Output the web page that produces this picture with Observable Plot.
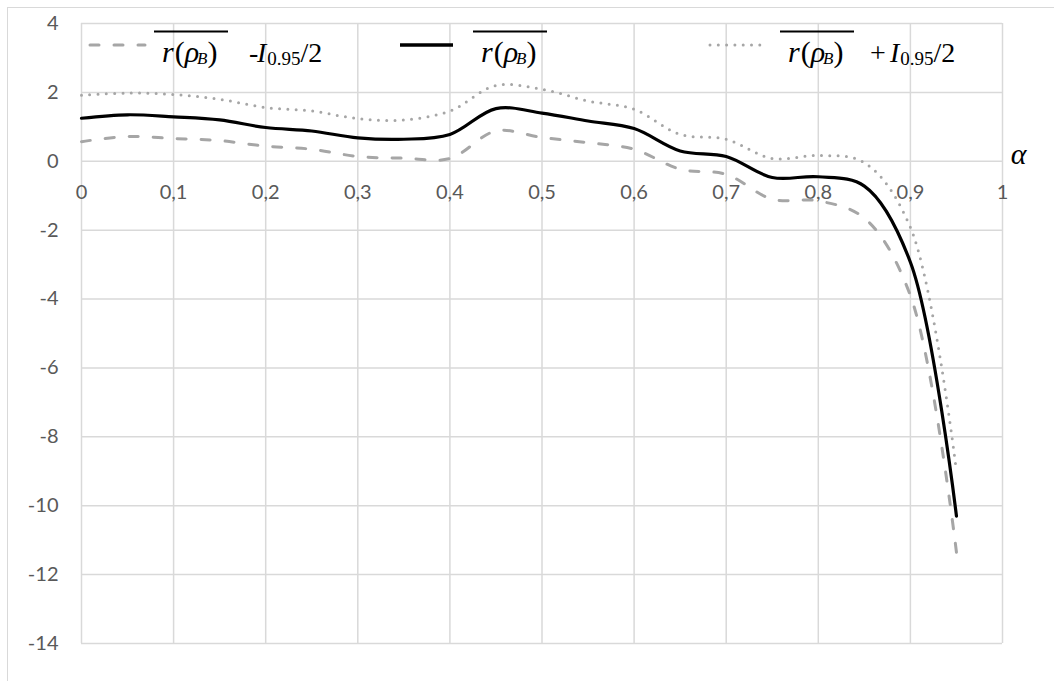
<!DOCTYPE html>
<html><head><meta charset="utf-8">
<script src="https://cdn.jsdelivr.net/npm/d3@7"></script>
<script src="https://cdn.jsdelivr.net/npm/@observablehq/plot@0.6"></script>
<style>
html,body{margin:0;padding:0;background:#fff;overflow:hidden;}
#wrap{position:relative;width:1054px;height:681px;overflow:hidden;}
#frame{position:absolute;left:7px;top:7px;width:1200px;height:800px;border-left:1.5px solid #d9d9d9;border-top:1.5px solid #d9d9d9;}
#chart{position:absolute;left:0;top:0;}
#legend{position:absolute;left:0;top:0;}
</style></head>
<body><div id="wrap"><div id="frame"></div><div id="chart"></div><svg id="legend" width="1054" height="100"></svg></div>
<script>
// data
const alpha = [0,0.05,0.1,0.15,0.2,0.25,0.3,0.35,0.4,0.45,0.5,0.55,0.6,0.65,0.7,0.75,0.8,0.85,0.9,0.95];
const meanR  = [1.25,1.35,1.29,1.2,0.98,0.88,0.68,0.64,0.78,1.53,1.4,1.17,0.95,0.3,0.14,-0.47,-0.45,-0.72,-2.93,-10.3];
const lowerR = [0.57,0.72,0.66,0.6,0.44,0.35,0.14,0.09,0.08,0.88,0.69,0.54,0.35,-0.23,-0.38,-1.1,-1.15,-1.65,-3.9,-11.35];
const upperR = [1.92,1.98,1.94,1.8,1.56,1.46,1.24,1.2,1.46,2.2,2.09,1.75,1.51,0.78,0.64,0.08,0.17,-0.04,-1.92,-9.0];
const xTicks = [0,0.1,0.2,0.3,0.4,0.5,0.6,0.7,0.8,0.9,1];
const xTickLabels = ["0","0,1","0,2","0,3","0,4","0,5","0,6","0,7","0,8","0,9","1"];
const yTicks = [4,2,0,-2,-4,-6,-8,-10,-12,-14];
const yTickLabels = ["4","2","0","-2","-4","-6","-8","-10","-12","-14"];

const rows = (vals) => alpha.map((a, i) => ({a, v: vals[i]}));
const grid = {stroke: "#d9d9d9", strokeOpacity: 1, strokeWidth: 1.5};
const curve = "catmull-rom";

const chart = Plot.plot({
  width: 1054, height: 681,
  marginLeft: 81, marginRight: 52, marginTop: 23, marginBottom: 38,
  x: {domain: [0, 1], axis: null},
  y: {domain: [-14, 4], label: null},
  style: {fontFamily: "Lato, 'Open Sans', sans-serif", fontSize: "20px", color: "#595959", background: "transparent", overflow: "visible"},
  marks: [
    Plot.gridX(xTicks, grid),
    Plot.gridY(yTicks, grid),
    Plot.axisY(yTicks, {label: null, tickSize: 0, tickPadding: 23, tickFormat: d => yTickLabels[yTicks.indexOf(d)], fill: "#595959", fontSize: 20}),
    Plot.text(xTicks, {x: d => d, y: () => 0, dy: 31, text: d => xTickLabels[xTicks.indexOf(d)], fill: "#595959", fontSize: 20}),
    Plot.text([1], {x: d => d, y: () => 0, dx: 16, dy: -7, text: () => "α", fontStyle: "italic", fontFamily: "'Liberation Serif', 'DejaVu Serif', serif", fontSize: 30, fill: "#000"}),
    Plot.line(rows(lowerR), {x: "a", y: "v", curve, stroke: "#a6a6a6", strokeWidth: 3, strokeDasharray: "9,15", strokeLinecap: "round"}),
    Plot.line(rows(upperR), {x: "a", y: "v", curve, stroke: "#a6a6a6", strokeWidth: 3, strokeDasharray: "0,8.3", strokeLinecap: "round"}),
    Plot.line(rows(meanR), {x: "a", y: "v", curve, stroke: "#000", strokeWidth: 3.2})
  ]
});
document.getElementById("chart").appendChild(chart);

// legend
const L = d3.select("#legend");
const serif = "'Liberation Serif', 'DejaVu Serif', serif";
function sample(x1, x2, stroke, dash, w) {
  const l = L.append("line").attr("x1", x1).attr("x2", x2).attr("y1", 45).attr("y2", 45)
    .attr("stroke", stroke).attr("stroke-width", w).attr("stroke-linecap", dash ? "round" : "butt");
  if (dash) l.attr("stroke-dasharray", dash);
}
function rho(x0) {
  L.append("line").attr("x1", x0).attr("x2", x0 + 74).attr("y1", 31.5).attr("y2", 31.5).attr("stroke", "#000").attr("stroke-width", 1.8);
  const t = L.append("text").attr("x", x0 + 8).attr("y", 62).attr("font-family", serif).attr("font-size", 30).attr("fill", "#000");
  t.append("tspan").attr("font-style", "italic").text("r");
  t.append("tspan").attr("dx", 1).text("(");
  t.append("tspan").attr("font-style", "italic").text("ρ");
  t.append("tspan").attr("dy", 2).attr("dx", -2).attr("font-style", "italic").attr("font-size", 17).text("B");
  t.append("tspan").attr("dy", -2).text(")");
}
function interval(sign, xs, xi) {
  const t = L.append("text").attr("y", 62).attr("font-family", serif).attr("font-size", 28).attr("fill", "#000");
  t.append("tspan").attr("x", xs).text(sign);
  t.append("tspan").attr("x", xi).attr("font-style", "italic").text("I");
  t.append("tspan").attr("dx", 1).attr("dy", 3).attr("font-size", 19).text("0.95");
  t.append("tspan").attr("dy", -3).text("/2");
}
sample(90, 145, "#a6a6a6", "9,15", 3);
rho(154);
interval("-", 249, 257);
sample(400, 453, "#000", null, 3.5);
rho(473);
sample(710, 763, "#a6a6a6", "0,8.3", 3);
rho(780);
interval("+", 870, 890);
</script>
</body></html>
